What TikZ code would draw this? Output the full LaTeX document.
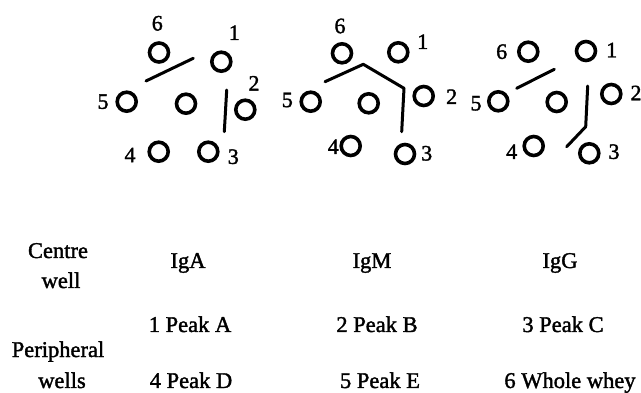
\documentclass[tikz,border=0pt]{standalone}
\usepackage{fontspec}
\setmainfont{Liberation Serif}[BoldFont=Liberation Serif, BoldFeatures={FakeBold=1.6}]
\usepackage{tikz}
\tikzset{
    well/.style={
        circle, draw, line width=3.6pt,
        minimum size=19pt, inner sep=0pt
    },
    welllabel/.style={
        inner sep=0pt, font=\fontsize{22}{24}\selectfont\bfseries
    },
    precip/.style={
        line width=3pt, line cap=round, line join=round
    },
    tabletext/.style={
        anchor=base, inner sep=0pt, align=center,
        font=\fontsize{22.5}{27}\selectfont\bfseries
    }
}

\begin{document}
\begin{tikzpicture}[x=1pt, y=-1pt]

    \useasboundingbox (0,0) rectangle (641,393);

    % --- PLATE 1: IgA ---
    \node[well] (a6) at (159,52.5) {};
    \node[well] (a1) at (221.3,61.7) {};
    \node[well] (a5) at (126.7,101.7) {};
    \node[well] (ac) at (186,103.7) {};
    \node[well] (a2) at (245.3,109.7) {};
    \node[well] (a4) at (158.7,151.7) {};
    \node[well] (a3) at (208.3,151.7) {};

    \node[welllabel] (a6_lbl) at (157.3,23.3) {6};
    \node[welllabel] (a1_lbl) at (234.3,32.7) {1};
    \node[welllabel] (a2_lbl) at (254,83.3) {2};
    \node[welllabel] (a5_lbl) at (103,101.7) {5};
    \node[welllabel] (a4_lbl) at (130,155) {4};
    \node[welllabel] (a3_lbl) at (233.3,156.7) {3};

    \draw[precip] (146,81) -- (193.3,58.3);
    \draw[precip] (226.7,90) -- (224.3,131.7);

    % --- PLATE 2: IgM ---
    \node[well] (m6) at (342,53.3) {};
    \node[well] (m1) at (398.3,52.3) {};
    \node[well] (m5) at (310.7,101.7) {};
    \node[well] (mc) at (368.7,103.3) {};
    \node[well] (m2) at (423.7,96) {};
    \node[well] (m4) at (350.7,146) {};
    \node[well] (m3) at (405,154) {};

    \node[welllabel] (m6_lbl) at (340,26) {6};
    \node[welllabel] (m1_lbl) at (422.7,41.7) {1};
    \node[welllabel] (m2_lbl) at (451.7,96.7) {2};
    \node[welllabel] (m5_lbl) at (287.3,100) {5};
    \node[welllabel] (m4_lbl) at (333.3,146.7) {4};
    \node[welllabel] (m3_lbl) at (426.7,153.3) {3};

    \draw[precip] (325,81.7) -- (363.3,64.3) -- (404,88.3) -- (401.7,131.7);

    % --- PLATE 3: IgG ---
    \node[well] (g6) at (528.3,51.7) {};
    \node[well] (g1) at (586,51) {};
    \node[well] (g5) at (498.3,101.3) {};
    \node[well] (gc) at (556.7,102) {};
    \node[well] (g2) at (611.3,94) {};
    \node[well] (g4) at (533.7,146) {};
    \node[well] (g3) at (589.3,153.3) {};

    \node[welllabel] (g6_lbl) at (501.7,51.7) {6};
    \node[welllabel] (g1_lbl) at (611.7,50) {1};
    \node[welllabel] (g2_lbl) at (636,93) {2};
    \node[welllabel] (g5_lbl) at (476,103.3) {5};
    \node[welllabel] (g4_lbl) at (511.7,151.7) {4};
    \node[welllabel] (g3_lbl) at (614,151.7) {3};

    \draw[precip] (516.7,88.3) -- (554.3,69.3);
    \draw[precip] (587.7,86) -- (585.7,126.7) -- (566.7,146.7);

    % --- KEY TABLE ---
    \node[tabletext] (centre) at (58,258) {Centre};
    \node[tabletext] (centre2) at (61,288) {well};
    \node[tabletext] (iga) at (188,268) {IgA};
    \node[tabletext] (igm) at (372,268) {IgM};
    \node[tabletext] (igg) at (560,268) {IgG};

    \node[tabletext] (peakA) at (190,332) {1 Peak A};
    \node[tabletext] (peakB) at (377,332) {2 Peak B};
    \node[tabletext] (peakC) at (563,332) {3 Peak C};

    \node[tabletext] (periph) at (58,357) {Peripheral};
    \node[tabletext] (periph2) at (62,388) {wells};
    \node[tabletext] (peakD) at (191,388) {4 Peak D};
    \node[tabletext] (peakE) at (380,388) {5 Peak E};
    \node[tabletext] (whey) at (570,388) {6 Whole whey};

\end{tikzpicture}
\end{document}
